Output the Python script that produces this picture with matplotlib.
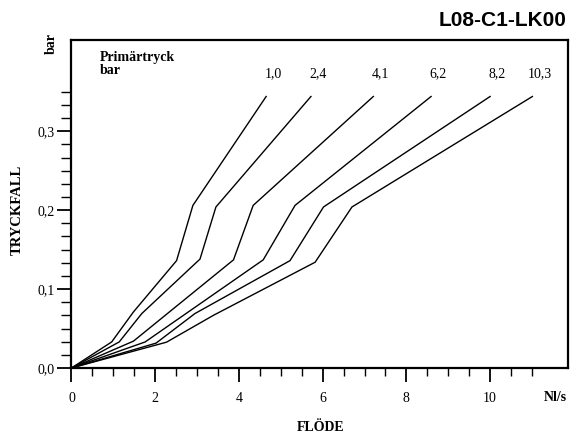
import matplotlib
matplotlib.use("Agg")
import matplotlib.pyplot as plt
import numpy as np

# ---- data ----
series_names = ["1,0", "2,4", "4,1", "6,2", "8,2", "10,3"]
flow_10 = [0, 0.96, 1.48, 2.51, 2.90, 4.65]
drop_10 = [0, 0.033, 0.071, 0.136, 0.206, 0.344]
flow_24 = [0, 1.14, 1.68, 3.07, 3.45, 5.72]
drop_24 = [0, 0.033, 0.069, 0.138, 0.204, 0.344]
flow_41 = [0, 1.48, 3.87, 4.34, 7.21]
drop_41 = [0, 0.034, 0.137, 0.206, 0.344]
flow_62 = [0, 1.76, 4.58, 5.34, 8.59]
drop_62 = [0, 0.033, 0.137, 0.206, 0.344]
flow_82 = [0, 2.02, 2.95, 5.22, 6.02, 10.0]
drop_82 = [0, 0.0315, 0.069, 0.136, 0.204, 0.344]
flow_103 = [0, 2.27, 3.40, 5.82, 6.70, 11.01]
drop_103 = [0, 0.0327, 0.067, 0.134, 0.204, 0.344]
flows = [flow_10, flow_24, flow_41, flow_62, flow_82, flow_103]
drops = [drop_10, drop_24, drop_41, drop_62, drop_82, drop_103]

x_major = [0, 2, 4, 6, 8, 10]
x_labels = ["0", "2", "4", "6", "8", "10"]
y_major = [0.0, 0.1, 0.2, 0.3]
y_labels = ["0,0", "0,1", "0,2", "0,3"]

serif = "Liberation Serif"
sans = "Liberation Sans"

fig = plt.figure(figsize=(5.71, 4.36), dpi=100)
ax = fig.add_axes([0.1252, 0.156, 0.8695, 0.7523])

for fx, dy in zip(flows, drops):
    ax.plot(fx, dy, color="black", lw=1.0, solid_joinstyle="miter")

for name, fx, dy in zip(series_names, flows, drops):
    ax.annotate(name, xy=(fx[-1], 0.3735), xytext=(5, 0), textcoords="offset points",
                ha="center", va="center", fontsize=10, family=serif)

ax.set_xlim(0, 11.86)
ax.set_ylim(0, 0.4156)

ax.set_xticks(x_major)
ax.set_xticklabels(x_labels)
ax.set_xticks(np.arange(0, 11.01, 0.5), minor=True)
ax.set_yticks(y_major)
ax.set_yticklabels(y_labels)
ax.set_yticks(np.arange(0, 0.3501, 0.1 / 6), minor=True)

ax.tick_params(axis="x", which="major", direction="out", length=10, width=1.3, pad=7,
               labelsize=10)
ax.tick_params(axis="x", which="minor", direction="out", length=6, width=1.0)
ax.tick_params(axis="y", which="major", direction="out", length=10, width=1.3, pad=2,
               labelsize=10)
ax.tick_params(axis="y", which="minor", direction="out", length=7.5, width=1.0)
for lab in ax.get_xticklabels() + ax.get_yticklabels():
    lab.set_family(serif)

for sp in ax.spines.values():
    sp.set_linewidth(1.6)

ax.text(0.68, 0.385, "Primärtryck\nbar", ha="left", va="center", fontsize=10,
        fontweight="bold", family=serif, linespacing=0.95)

fig.text(567 / 571, 1 - 21 / 436, "L08-C1-LK00", ha="right", va="center",
         fontsize=15, fontweight="bold", family=sans)
fig.text(51 / 571, 1 - 43 / 436, "bar", ha="center", va="center", rotation=90,
         fontsize=10, fontweight="bold", family=serif)
fig.text(17 / 571, 1 - 210 / 436, "TRYCKFALL", ha="center", va="center", rotation=90,
         fontsize=10.5, fontweight="bold", family=serif)
fig.text(321 / 571, 1 - 427 / 436, "FLÖDE", ha="center", va="center",
         fontsize=10, fontweight="bold", family=serif)
fig.text(567 / 571, 1 - 397 / 436, "Nl/s", ha="right", va="center",
         fontsize=10, fontweight="bold", family=serif)

fig.savefig("out.png", dpi=100)
